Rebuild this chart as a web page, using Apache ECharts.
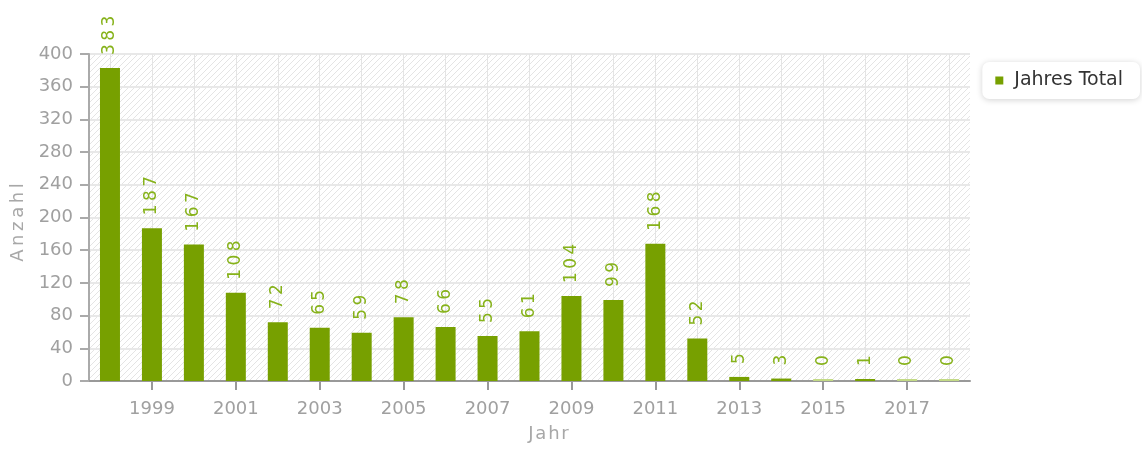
<!DOCTYPE html>
<html>
<head>
<meta charset="utf-8">
<script src="https://cdn.jsdelivr.net/npm/echarts@6/dist/echarts.min.js"></script>
<style>
html,body{margin:0;padding:0;background:#fff;}
#chart{width:1142px;height:450px;}
</style>
</head>
<body>
<div id="chart"></div>
<script>
const years = ['1998','1999','2000','2001','2002','2003','2004','2005','2006','2007','2008','2009','2010','2011','2012','2013','2014','2015','2016','2017','2018'];
const totals = [383,187,167,108,72,65,59,78,66,55,61,104,99,168,52,5,3,0,1,0,0];
const seriesName = 'Jahres Total';
const xName = 'Jahr';
const yName = 'Anzahl';
const yMin = 0, yMax = 400, yStep = 40;

const barColor = '#77a000';
const zeroColor = '#c3da86';
const spaced = (s, sp) => String(s).split('').join(sp);

function hatch() {
  const c = document.createElement('canvas');
  c.width = 6; c.height = 6;
  const g = c.getContext('2d');
  g.fillStyle = '#ffffff';
  g.fillRect(0, 0, 6, 6);
  g.strokeStyle = '#e4e4e4';
  g.lineWidth = 1;
  g.beginPath();
  g.moveTo(-1, 7); g.lineTo(7, -1);
  g.moveTo(-1, 1); g.lineTo(1, -1);
  g.moveTo(5, 7); g.lineTo(7, 5);
  g.stroke();
  return c;
}

const font = '"DejaVu Sans", Verdana, sans-serif';
const chart = echarts.init(document.getElementById('chart'), null, {renderer: 'canvas'});
chart.setOption({
  animation: false,
  textStyle: {fontFamily: font},
  grid: {
    left: 89, right: 172, top: 54, bottom: 69,
    show: true, borderWidth: 0,
    backgroundColor: {image: hatch(), repeat: 'repeat'}
  },
  legend: {
    right: 2, top: 62,
    orient: 'vertical',
    icon: 'rect', itemWidth: 8, itemHeight: 8,
    padding: [9, 17, 9, 13],
    backgroundColor: '#fff',
    borderRadius: 7,
    shadowBlur: 6, shadowColor: 'rgba(0,0,0,0.18)', shadowOffsetY: 1,
    textStyle: {fontSize: 19, color: '#333', fontFamily: font, padding: [0, 0, 0, 6]},
    data: [{name: seriesName, itemStyle: {color: barColor}}]
  },
  xAxis: {
    type: 'category',
    data: years,
    name: spaced(xName, '\u200A'),
    nameLocation: 'middle',
    nameGap: 44,
    nameTextStyle: {fontSize: 18, color: '#a8a8a8', padding: [0, 0, 0, 38]},
    axisLine: {lineStyle: {color: '#999', width: 2}},
    axisTick: {show: true, alignWithLabel: true, length: 9, interval: i => i % 2 === 1, lineStyle: {color: '#999', width: 2}},
    axisLabel: {interval: i => i % 2 === 1, fontSize: 18, color: '#a0a0a0', margin: 19},
    splitLine: {show: true, interval: 0, alignWithLabel: true, lineStyle: {color: '#e4e4e4', width: 1}}
  },
  yAxis: {
    type: 'value',
    min: yMin, max: yMax, interval: yStep,
    name: spaced(yName, '\u2009'),
    nameLocation: 'middle',
    nameGap: 62,
    nameTextStyle: {fontSize: 18, color: '#a8a8a8', padding: [0, 10, 0, 0]},
    axisLine: {show: true, lineStyle: {color: '#aaa', width: 2}},
    axisTick: {show: true, length: 9, lineStyle: {color: '#aaa', width: 2}},
    axisLabel: {fontSize: 18, color: '#a0a0a0', margin: 16},
    splitLine: {show: true, lineStyle: {color: '#e8e8e8', width: 2}}
  },
  series: [{
    name: seriesName,
    type: 'bar',
    data: totals,
    barWidth: 20,
    barMinHeight: 2,
    itemStyle: {
      color: p => p.value === 0 ? zeroColor : barColor
    },
    label: {
      show: true,
      position: 'top',
      rotate: 90,
      align: 'left',
      verticalAlign: 'middle',
      distance: 13,
      fontSize: 17,
      color: '#86b21a',
      fontFamily: font,
      formatter: p => spaced(p.value, '\u2009')
    }
  }]
});
</script>
</body>
</html>
